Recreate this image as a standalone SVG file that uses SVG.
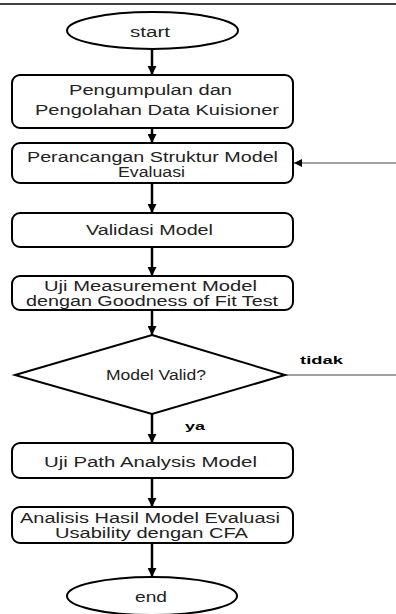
<svg xmlns="http://www.w3.org/2000/svg" width="396" height="614" viewBox="0 0 396 614">
<style>
.shape{fill:#fff;stroke:#000;stroke-width:2}
.t{font-family:"Liberation Sans",Arial,sans-serif;font-size:14px;fill:#222;text-anchor:middle}
.lbl{font-family:"Liberation Sans",Arial,sans-serif;font-size:11px;font-weight:bold;fill:#000}
.flow{stroke:#000;stroke-width:2.5;fill:none;marker-end:url(#ah)}
.thin{stroke:#444;stroke-width:1;fill:none}
</style>
<defs>
<marker id="ah" viewBox="0 0 10 10" refX="10" refY="5" markerWidth="12" markerHeight="9" markerUnits="userSpaceOnUse" orient="auto">
<path d="M0,0 L10,5 L0,10 z" fill="#000"/>
</marker>
<marker id="ahs" viewBox="0 0 10 10" refX="10" refY="5" markerWidth="12" markerHeight="8" markerUnits="userSpaceOnUse" orient="auto">
<path d="M0,0 L10,5 L0,10 z" fill="#000"/>
</marker>
</defs>
<line x1="0" y1="4" x2="396" y2="4" stroke="#000" stroke-width="1.5"/>
<g id="connectors">
<line class="flow" x1="152" y1="49" x2="152" y2="75"/>
<line class="flow" x1="152" y1="128" x2="152" y2="143"/>
<line class="flow" x1="152" y1="183" x2="152" y2="213"/>
<line class="flow" x1="152" y1="247" x2="152" y2="276"/>
<line class="flow" x1="152" y1="310" x2="152" y2="335"/>
<line class="flow" x1="152" y1="414" x2="152" y2="443"/>
<line class="flow" x1="152" y1="478" x2="152" y2="507"/>
<line class="flow" x1="152" y1="543" x2="152" y2="577"/>
<line class="thin" x1="396" y1="163" x2="294" y2="163" marker-end="url(#ahs)"/>
<line class="thin" x1="285" y1="375" x2="396" y2="375"/>
<text class="lbl" x="300" y="364" textLength="43" lengthAdjust="spacingAndGlyphs">tidak</text>
<text class="lbl" x="185" y="430" textLength="20" lengthAdjust="spacingAndGlyphs">ya</text>
</g>
<g id="start">
<ellipse class="shape" cx="152.5" cy="30.5" rx="85.5" ry="18.5"/>
<text class="t" x="150" y="37" textLength="40" lengthAdjust="spacingAndGlyphs">start</text>
</g>
<g id="n1">
<rect class="shape" x="12" y="75" width="281" height="53" rx="8"/>
<text class="t" x="150.5" y="95" textLength="163" lengthAdjust="spacingAndGlyphs">Pengumpulan dan</text>
<text class="t" x="157" y="114.5" textLength="244" lengthAdjust="spacingAndGlyphs">Pengolahan Data Kuisioner</text>
</g>
<g id="n2">
<rect class="shape" x="12" y="143" width="281" height="40" rx="8"/>
<text class="t" x="152.5" y="162" textLength="251" lengthAdjust="spacingAndGlyphs">Perancangan Struktur Model</text>
<text class="t" x="151.5" y="177" textLength="67" lengthAdjust="spacingAndGlyphs">Evaluasi</text>
</g>
<g id="n3">
<rect class="shape" x="12" y="213" width="281" height="34" rx="8"/>
<text class="t" x="149.5" y="235" textLength="127" lengthAdjust="spacingAndGlyphs">Validasi Model</text>
</g>
<g id="n4">
<rect class="shape" x="12" y="276" width="281" height="34" rx="8"/>
<text class="t" x="150.5" y="291" textLength="213" lengthAdjust="spacingAndGlyphs">Uji Measurement Model</text>
<text class="t" x="152" y="306" textLength="252" lengthAdjust="spacingAndGlyphs">dengan Goodness of Fit Test</text>
</g>
<g id="decision">
<polygon class="shape" points="152,335 285,375 152,414 15,375"/>
<text class="t" x="156" y="380" textLength="100" lengthAdjust="spacingAndGlyphs">Model Valid?</text>
</g>
<g id="n5">
<rect class="shape" x="12" y="443" width="281" height="35" rx="8"/>
<text class="t" x="150.5" y="467" textLength="213" lengthAdjust="spacingAndGlyphs">Uji Path Analysis Model</text>
</g>
<g id="n6">
<rect class="shape" x="12" y="507" width="281" height="36" rx="8"/>
<text class="t" x="150" y="523" textLength="260" lengthAdjust="spacingAndGlyphs">Analisis Hasil Model Evaluasi</text>
<text class="t" x="151.5" y="538" textLength="193" lengthAdjust="spacingAndGlyphs">Usability dengan CFA</text>
</g>
<g id="end">
<ellipse class="shape" cx="152" cy="596" rx="85" ry="19"/>
<text class="t" x="151" y="601.5" textLength="32" lengthAdjust="spacingAndGlyphs">end</text>
</g>
</svg>
